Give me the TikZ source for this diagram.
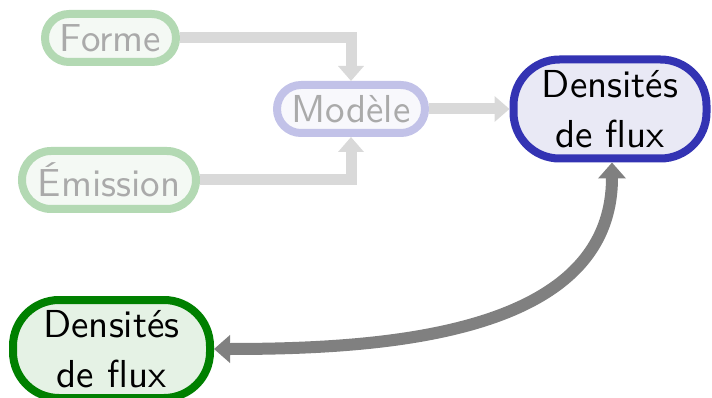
\documentclass[tikz,border=0pt]{standalone}
\usepackage{fontspec}
\newfontfamily\labelfont{lmsans10-regular.otf}
\usetikzlibrary{arrows.meta}
\definecolor{fadegreen}{RGB}{179,217,179}
\definecolor{fadegreenfill}{RGB}{244,249,244}
\definecolor{fadeblue}{RGB}{194,194,232}
\definecolor{fadebluefill}{RGB}{248,248,252}
\definecolor{fadetext}{RGB}{170,170,170}
\definecolor{fadeline}{RGB}{217,217,217}
\definecolor{fluxblue}{RGB}{51,51,179}
\definecolor{fluxbluefill}{RGB}{233,233,245}
\definecolor{fluxgreen}{RGB}{0,128,0}
\definecolor{fluxgreenfill}{RGB}{229,242,229}
\tikzset{
  pill/.style={draw, line width=8pt, inner sep=0pt, align=center,
    font=\labelfont\fontsize{39}{50}\selectfont},
  faded/.style={pill, text=fadetext},
  fadeline/.style={draw=fadeline, line width=11pt,
    -{Triangle[width=25pt,length=15pt]}},
  biglink/.style={draw=gray, line width=12pt,
    {Triangle[width=27pt,length=16pt]}-{Triangle[width=27pt,length=16pt]}},
}
\begin{document}
\begin{tikzpicture}[x=1pt,y=-1pt]
\useasboundingbox (0,0) rectangle (712,398);

% faded inputs
\node[faded, draw=fadegreen, fill=fadegreenfill, minimum width=131pt,
      minimum height=48pt, rounded corners=24pt] (forme) at (110.5,38) {Forme};
\node[faded, draw=fadegreen, fill=fadegreenfill, minimum width=174pt,
      minimum height=58pt, rounded corners=29pt] (emission) at (109,180) {Émission};
\node[faded, draw=fadeblue, fill=fadebluefill, minimum width=148pt,
      minimum height=48pt, rounded corners=24pt] (modele) at (351,109) {Modèle};

% flux density nodes
\node[pill, draw=fluxblue, fill=fluxbluefill, minimum width=193pt,
      minimum height=99pt, rounded corners=46pt] (fluxa) at (610,109) {Densités\\de flux};
\node[pill, draw=fluxgreen, fill=fluxgreenfill, minimum width=197pt,
      minimum height=98pt, rounded corners=46pt] (fluxb) at (111.5,349) {Densités\\de flux};

% faded connectors
\draw[fadeline] (forme.east) -| (modele.north);
\draw[fadeline] (emission.east) -| (modele.south);
\draw[fadeline] (modele.east) -- (fluxa.west);

% two-way link between the flux densities
\draw[biglink] ([xshift=2pt]fluxa.south) to[out=-90,in=0] (fluxb.east);
\end{tikzpicture}
\end{document}
